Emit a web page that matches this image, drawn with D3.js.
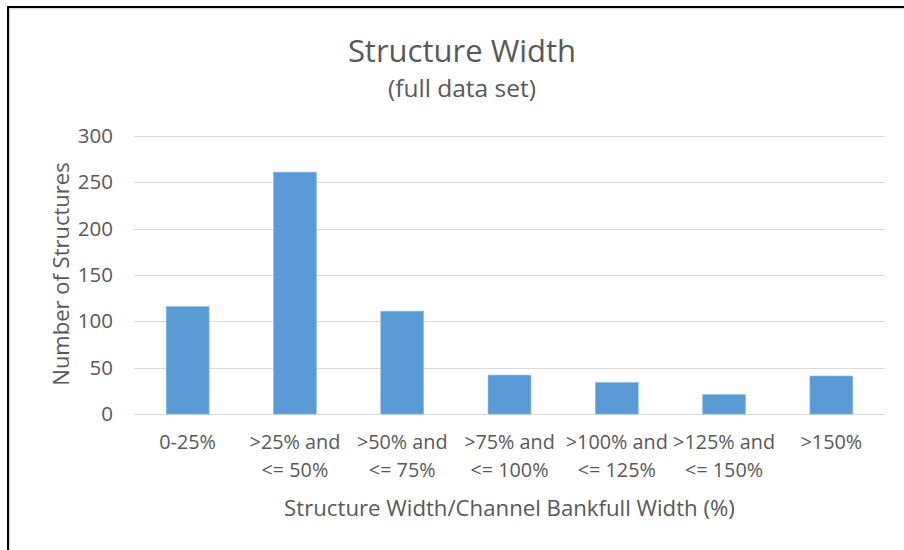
<!DOCTYPE html>
<html>
<head>
<meta charset="utf-8">
<script src="https://cdn.jsdelivr.net/npm/d3@7"></script>
<style>
  html, body { margin: 0; padding: 0; background: #fff; }
  svg { display: block; }
  text { font-family: "Open Sans", sans-serif; fill: #595959; }
</style>
</head>
<body>
<svg id="chart" width="904" height="550"></svg>
<script>
// Width-ratio classes and structure counts
const categories = [
  ["0-25%"],
  [">25% and", "<= 50%"],
  [">50% and", "<= 75%"],
  [">75% and", "<= 100%"],
  [">100% and", "<= 125%"],
  [">125% and", "<= 150%"],
  [">150%"]
];
const counts = [116, 261, 111, 42, 34, 21, 41];
const yTicks = [0, 50, 100, 150, 200, 250, 300];

const titleText = "Structure Width";
const subtitleText = "(full data set)";
const xTitle = "Structure Width/Channel Bankfull Width (%)";
const yTitle = "Number of Structures";

const svg = d3.select("#chart");
const W = 904, H = 550;
const plot = { left: 134, right: 885, top: 136, bottom: 414 };

// Frame around the chart
svg.append("rect").attr("x", 9.5).attr("y", 8.5).attr("width", W).attr("height", H)
  .attr("fill", "none").attr("stroke", "#d9d9d9").attr("stroke-width", 1.5);
svg.append("rect").attr("x", 8).attr("y", 7).attr("width", W).attr("height", H)
  .attr("fill", "none").attr("stroke", "#000").attr("stroke-width", 2);

const keys = categories.map(c => c.join(" "));
const x = d3.scaleBand().domain(keys).range([plot.left, plot.right]).paddingInner(0.6).paddingOuter(0.3);
const y = d3.scaleLinear().domain([0, 300]).range([plot.bottom, plot.top]);

// Horizontal gridlines
svg.append("g").selectAll("line").data(yTicks).join("line")
  .attr("x1", plot.left).attr("x2", plot.right)
  .attr("y1", d => Math.round(y(d)) + 0.5).attr("y2", d => Math.round(y(d)) + 0.5)
  .attr("stroke", "#d9d9d9").attr("stroke-width", 1);

// Y axis labels
const yAxis = d3.axisLeft(y).tickValues(yTicks).tickSize(0).tickPadding(0);
const gy = svg.append("g").attr("transform", `translate(${plot.left - 21},0)`).call(yAxis);
gy.select(".domain").remove();
gy.selectAll("text").attr("font-size", 20.5).attr("font-family", "'Open Sans', sans-serif").attr("fill", "#595959");

// Bars
svg.append("g").selectAll("rect").data(counts).join("rect")
  .attr("x", (d, i) => x(keys[i]))
  .attr("y", d => y(d))
  .attr("width", x.bandwidth())
  .attr("height", d => y(0) - y(d))
  .attr("fill", "#5b9bd5")
  .attr("stroke", "#8fbbe3").attr("stroke-width", 0.6);

// X axis category labels (two lines)
const gx = svg.append("g");
categories.forEach((lines, i) => {
  const cx = x(keys[i]) + x.bandwidth() / 2;
  const t = gx.append("text").attr("text-anchor", "middle").attr("font-size", 19.8);
  lines.forEach((ln, j) => {
    t.append("tspan").attr("x", cx).attr("y", 449 + j * 28).text(ln);
  });
});

// Titles
svg.append("text").attr("x", 462).attr("y", 62).attr("text-anchor", "middle")
  .attr("font-size", 31).text(titleText);
svg.append("text").attr("x", 462).attr("y", 97).attr("text-anchor", "middle")
  .attr("font-size", 24.5).text(subtitleText);
svg.append("text").attr("x", (plot.left + plot.right) / 2).attr("y", 516).attr("text-anchor", "middle")
  .attr("font-size", 22.2).text(xTitle);
svg.append("text").attr("transform", `translate(69,${(plot.top + plot.bottom) / 2 - 1}) rotate(-90)`)
  .attr("text-anchor", "middle").attr("font-size", 22).text(yTitle);
</script>
</body>
</html>
